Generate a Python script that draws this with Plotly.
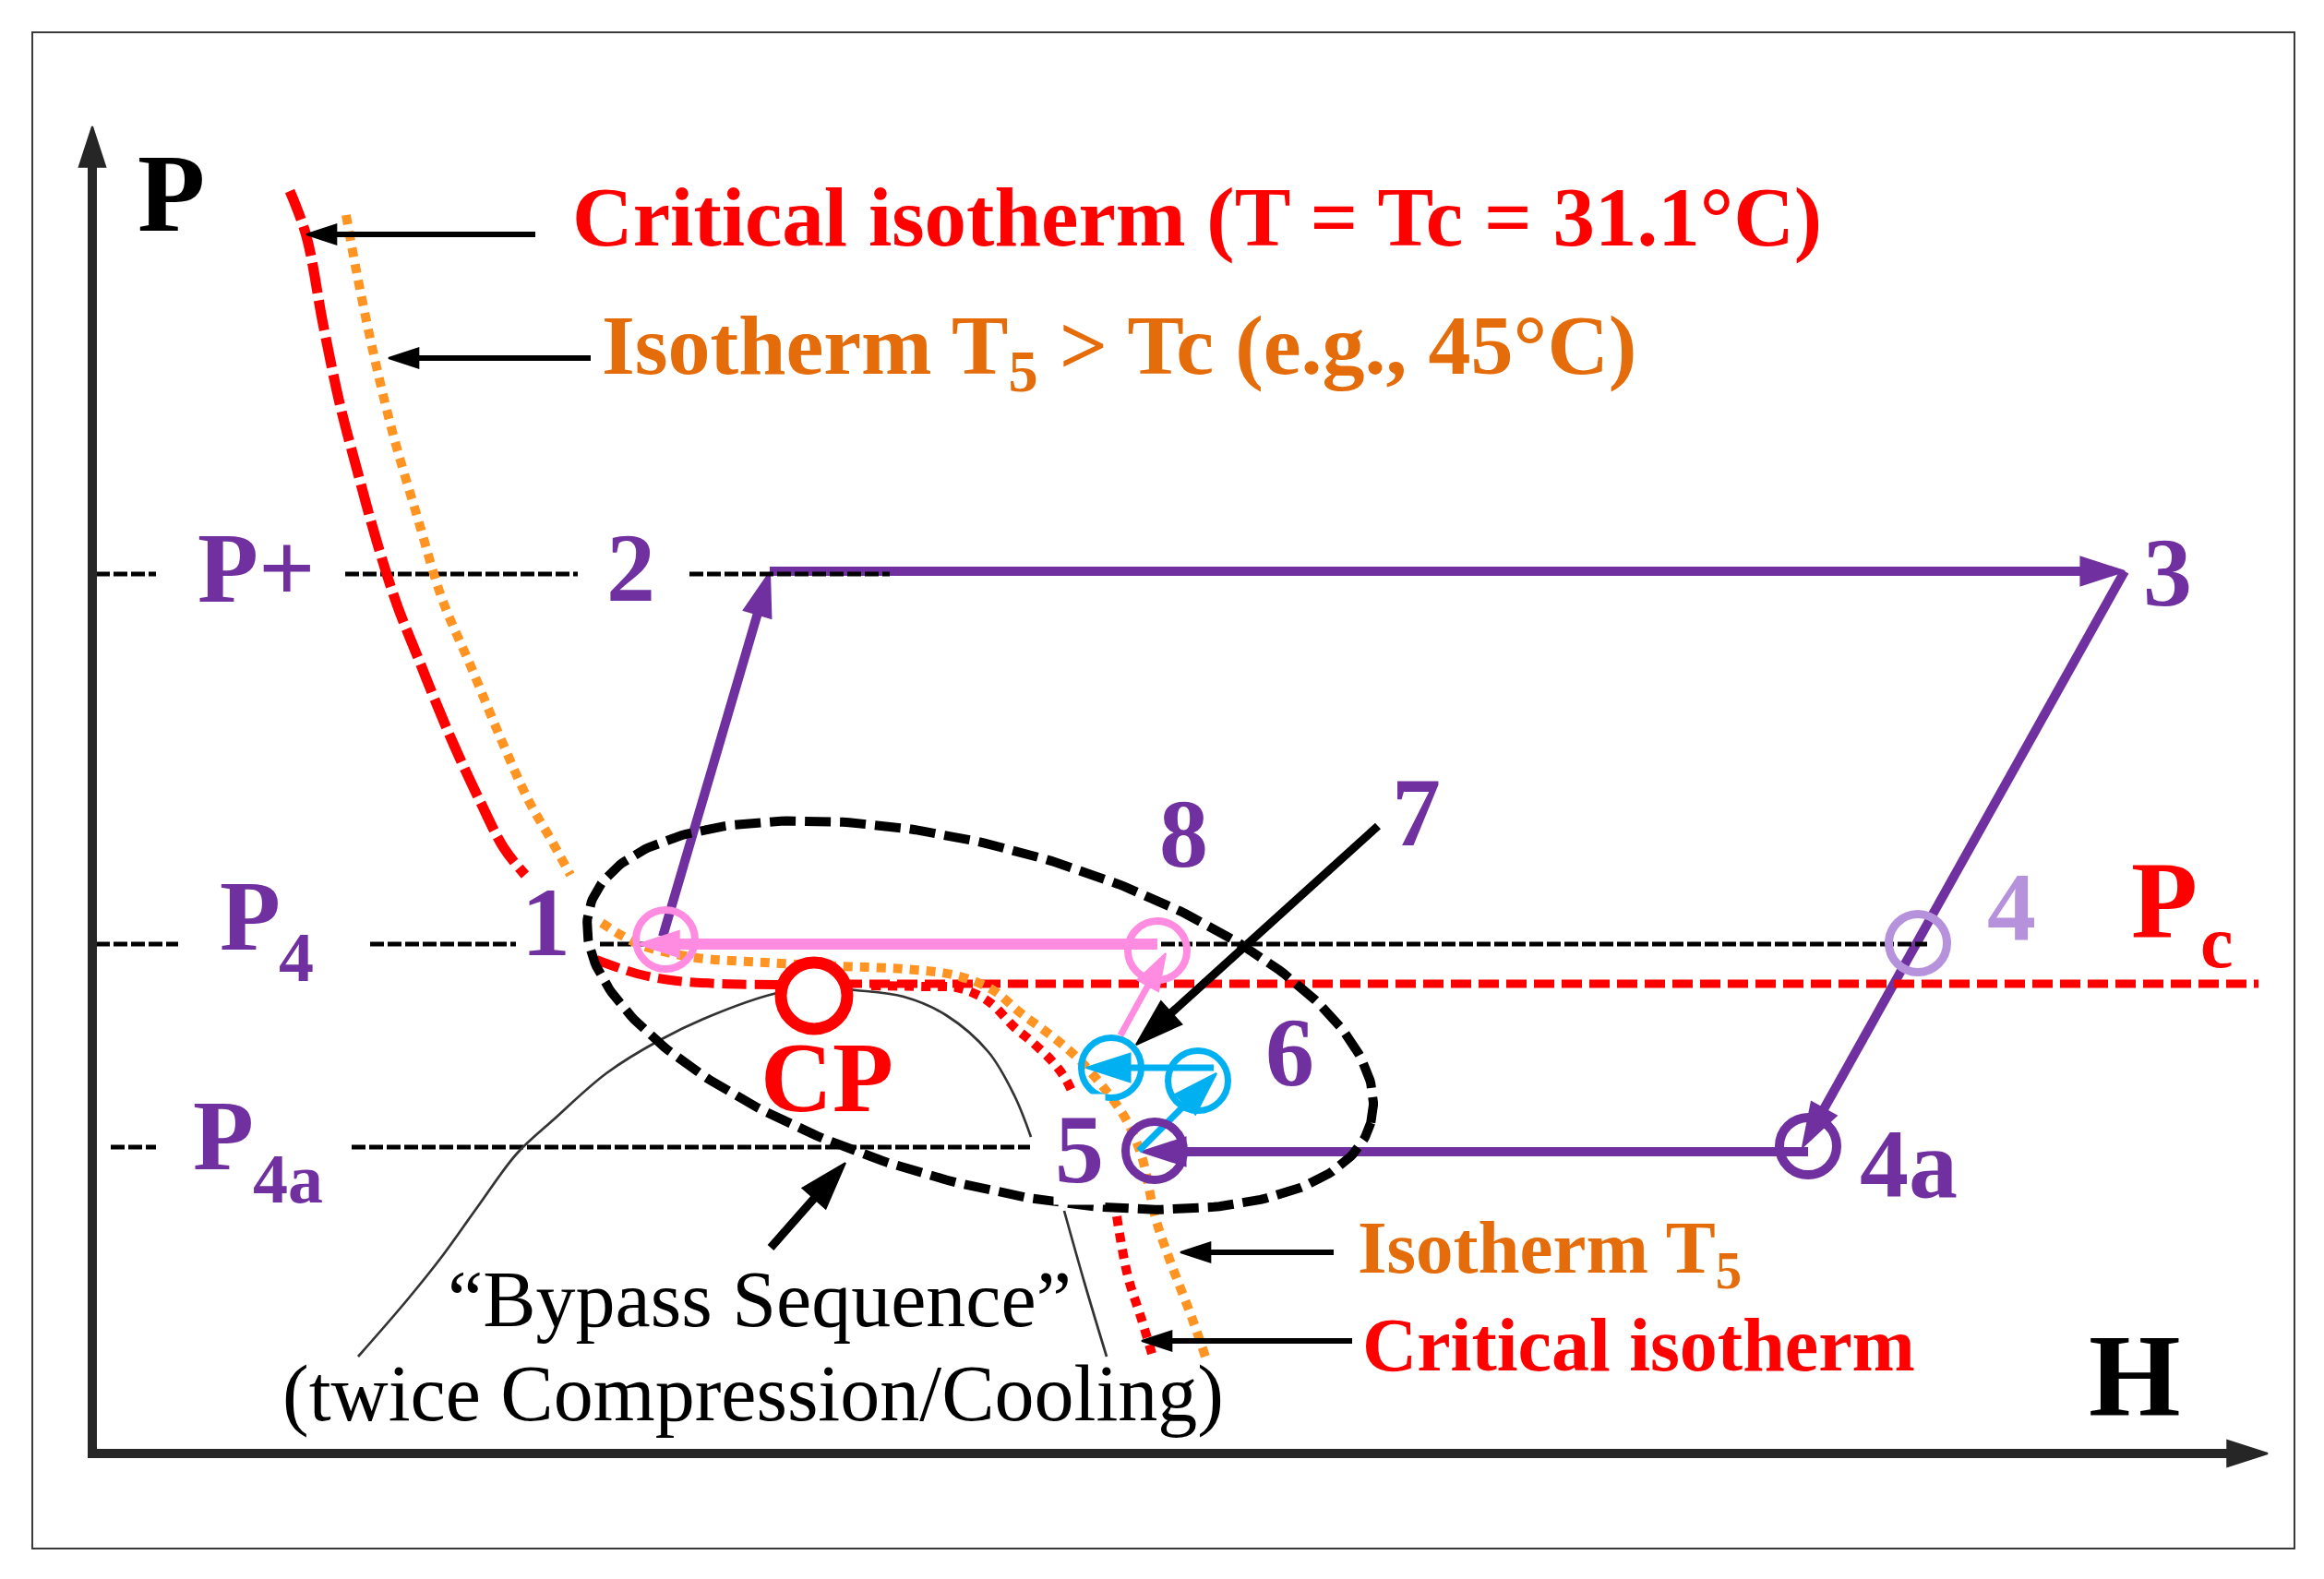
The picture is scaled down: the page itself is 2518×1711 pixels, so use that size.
import numpy as np
import plotly.graph_objects as go

FONT = "Liberation Serif"
PURPLE = "#7030A0"
LIGHT_PURPLE = "#B792DC"
PINK = "#FF8CE0"
CYAN = "#00B0F0"
RED = "#FF0000"
ORANGE_LINE = "#FF9422"
ORANGE_TEXT = "#E46C0A"
AXIS = "#262626"

# ---------------- data (H, P in arbitrary schematic units) ----------------
STATE_NAMES = ["1", "2", "3", "4", "4a", "5", "6", "7", "8", "CP"]
STATE_H = [62.1, 73.4, 220.2, 197.8, 185.9, 115.1, 119.8, 110.4, 115.4, 78.2]
STATE_P = [55.7, 95.5, 95.6, 55.3, 33.3, 32.8, 40.4, 41.8, 54.5, 49.6]

P_PLUS = 95.3
P_4 = 55.2
P_4A = 33.2
P_C = 50.9
PC_LINE_H = [78.2, 234.7]

# dotted reference pressure lines (H extents of visible pieces)
PPLUS_SEG = [(0.4, 6.9), (27.4, 52.6), (64.7, 86.4)]
P4_SEG = [(0.4, 9.3), (30.1, 45.9), (55.0, 198.8)]
P4A_SEG = [(2.0, 6.9), (28.1, 101.6)]

# critical isotherm, high-pressure branch
CRIT_HI_H = [21.4, 23.2, 25.0, 26.8, 28.6, 30.8, 33.0, 35.3, 37.1, 39.3, 42.0, 44.6, 46.9]
CRIT_HI_P = [136.8, 131.9, 122.4, 113.8, 106.9, 98.9, 92.0, 86.2, 81.7, 76.5, 70.7, 65.6, 62.7]
# isotherm T5, high-pressure branch
T5_HI_H = [27.5, 28.6, 30.4, 32.6, 35.3, 37.9, 41.1, 44.2, 47.3, 49.6, 51.8]
T5_HI_P = [134.2, 128.2, 119.5, 110.4, 101.2, 92.6, 85.1, 77.6, 70.7, 66.7, 62.7]
# critical isotherm near CP (dashed part, left of CP)
CRIT_LO_DASH_H = [54.6, 59.0, 62.6, 68.0, 74.1, 78.2]
CRIT_LO_DASH_P = [53.5, 52.0, 51.3, 50.9, 50.8, 50.7]
# critical isotherm, low-pressure side (dotted part)
CRIT_LO_DOT_H = [84.4, 90.0, 93.6, 95.9, 97.6, 99.9, 101.7, 104.0, 105.5, 106.8, None,
                 111.0, 112.2, 113.7, 114.9]
CRIT_LO_DOT_P = [50.7, 50.6, 50.5, 49.7, 48.6, 46.2, 44.7, 42.5, 40.5, 37.7, None,
                 25.7, 19.2, 14.5, 10.5]
# isotherm T5, lower branch
T5_LO_H = [55.2, 59.2, 64.9, 73.0, 81.0, 87.9, 93.6, 97.6, 100.5, 104.0, 106.8, 109.7,
           112.0, 113.7, 115.2, 116.8, 119.1, 120.6]
T5_LO_P = [57.5, 55.2, 53.8, 53.2, 52.8, 52.5, 51.8, 50.2, 47.8, 45.2, 42.8, 39.5,
           36.2, 32.2, 25.5, 20.8, 14.8, 10.5]
# saturation dome (thin line)
DOME_H = [28.8, 34.0, 38.0, 41.8, 46.0, 50.0, 55.7, 61.5, 67.2, 73.8, 78.2, 82.7, 87.9,
          92.5, 97.1, 99.9, 101.7, None, 105.3, 107.5, 109.9]
DOME_P = [10.5, 16.5, 21.5, 26.8, 32.5, 36.2, 41.2, 44.8, 47.5, 49.8, 50.5, 50.2, 49.5,
          47.5, 43.5, 38.8, 34.3, None, 26.3, 18.5, 10.5]

# "bypass sequence" ellipse: centre, semi-axes, tilt (deg)
ELL_C = (96.2, 47.5)
ELL_AB = (43.9, 18.2)
ELL_TILT = -15.4

# process arrows: (H_tail, P_tail, H_head, P_head)
PURPLE_ARROWS = [(61.8, 56.0, 73.4, 95.5), (73.4, 95.6, 220.2, 95.6),
                 (220.2, 95.6, 185.3, 33.2), (185.9, 32.7, 113.7, 32.7)]
CYAN_ARROWS = [(113.4, 32.8, 121.8, 41.2), (121.5, 41.8, 107.7, 41.8)]
PINK_ARROWS = [(111.4, 45.3, 116.3, 54.2), (115.4, 55.2, 59.2, 55.2)]
# pointer arrows
THIN_POINTERS = [(48.0, 132.1, 23.2, 132.1), (54.0, 118.7, 32.1, 118.7),
                 (134.5, 21.8, 117.9, 21.8), (136.5, 12.2, 113.7, 12.2)]
THICK_POINTERS = [(139.3, 68.0, 113.1, 44.3), (73.5, 22.3, 81.6, 31.5)]
AXES = [(-0.5, 0.0, 235.7, 0.0), (0.0, -0.5, 0.0, 143.8)]
FRAME = (-6.5, -10.3, 238.6, 154.0)

# ---------------- figure ----------------
fig = go.Figure()


def seg_xy(segs, level):
    xs, ys = [], []
    for a, b in segs:
        xs += [a, b, None]
        ys += [level, level, None]
    return xs, ys


def ref_line(segs, level):
    xs, ys = seg_xy(segs, level)
    fig.add_trace(go.Scatter(x=xs, y=ys, mode="lines",
                             line=dict(color="black", width=5, dash="15px,4px")))


def arrow(a, color, width, head, edge=2):
    fig.add_trace(go.Scatter(
        x=[a[0], a[2]], y=[a[1], a[3]], mode="lines+markers",
        line=dict(color=color, width=width),
        marker=dict(symbol="arrow", size=[0, head], angleref="previous", color=color,
                    opacity=1, line=dict(width=edge, color=color))))


def curve(xs, ys, color, width, dash, spline=True):
    fig.add_trace(go.Scatter(x=xs, y=ys, mode="lines",
                             line_shape="spline" if spline else "linear",
                             line=dict(color=color, width=width, dash=dash)))


# purple cycle 1-2-3-4a-5
for a in PURPLE_ARROWS:
    arrow(a, PURPLE, 10, 50)

ref_line(P4_SEG, P_4)
ref_line(P4A_SEG, P_4A)
ref_line(PPLUS_SEG, P_PLUS)

fig.add_trace(go.Scatter(x=DOME_H, y=DOME_P, mode="lines", line_shape="spline",
                         line=dict(color="#333333", width=2.7)))

curve(PC_LINE_H, [P_C, P_C], RED, 9, "22px,8px", spline=False)
curve(CRIT_HI_H, CRIT_HI_P, RED, 11, "33px,8px")
curve(T5_HI_H, T5_HI_P, ORANGE_LINE, 10, "10px,8px")
curve(CRIT_LO_DASH_H, CRIT_LO_DASH_P, RED, 10, "26px,9px")
curve(CRIT_LO_DOT_H, CRIT_LO_DOT_P, RED, 10, "10px,8px")
curve(T5_LO_H, T5_LO_P, ORANGE_LINE, 10, "10px,8px")

t = np.linspace(0, 2 * np.pi, 361)
th = np.deg2rad(ELL_TILT)
ex = ELL_C[0] + ELL_AB[0] * np.cos(t) * np.cos(th) - ELL_AB[1] * np.sin(t) * np.sin(th)
ey = ELL_C[1] + ELL_AB[0] * np.cos(t) * np.sin(th) + ELL_AB[1] * np.sin(t) * np.cos(th)
fig.add_trace(go.Scatter(x=ex, y=ey, mode="lines",
                         line=dict(color="black", width=10, dash="28px,10px")))

arrow(PINK_ARROWS[0], PINK, 7, 42)
arrow(PINK_ARROWS[1], PINK, 12, 46)
for a in CYAN_ARROWS:
    arrow(a, CYAN, 7, 50)

# state circles: (name, colour, ring width)
idx = {n: i for i, n in enumerate(STATE_NAMES)}
CIRCLES = [("1", PINK, 8), ("8", PINK, 8), ("4", LIGHT_PURPLE, 9), ("4a", PURPLE, 10),
           ("5", PURPLE, 9), ("7", CYAN, 7), ("6", CYAN, 7)]
for name, col, w in CIRCLES:
    i = idx[name]
    fig.add_trace(go.Scatter(x=[STATE_H[i]], y=[STATE_P[i]], mode="markers",
                             marker=dict(symbol="circle-open", size=72 - w, color=col,
                                         line=dict(color=col, width=w))))
i = idx["CP"]
fig.add_trace(go.Scatter(x=[STATE_H[i]], y=[STATE_P[i]], mode="markers",
                         marker=dict(symbol="circle", size=72, color="white",
                                     line=dict(color=RED, width=13))))

for a in THIN_POINTERS:
    arrow(a, "black", 6, 34)
for a in THICK_POINTERS:
    arrow(a, "black", 9, 54)
for a in AXES:
    arrow(a, AXIS, 10, 46)

ann = []


def label(text, x, y, color, size, bold=True, xanchor="center", bg=None):
    d = dict(x=x, y=y, xref="x", yref="y", text=text, showarrow=False,
             xanchor=xanchor, yanchor="middle",
             font=dict(family=FONT, size=size, color=color, weight=700 if bold else 400))
    if bg:
        d["bgcolor"] = bg
    ann.append(d)


label("P", 8.5, 136.6, "black", 120)
label("H", 221.3, 8.5, "black", 128)
label("Critical isotherm (T = Tc = 31.1°C)", 51.8, 134.0, RED, 91, xanchor="left")
label("Isotherm T<sub>5</sub> &gt; Tc (e.g., 45°C)", 55.0, 119.5, ORANGE_TEXT, 92, xanchor="left")
label("P+", 17.8, 96.0, PURPLE, 108)
label("2", 58.3, 96.0, PURPLE, 106)
label("3", 224.8, 95.5, PURPLE, 106)
label("P", 17.1, 58.3, PURPLE, 108)
label("4", 22.1, 53.8, PURPLE, 76)
label("1", 49.1, 57.6, PURPLE, 106)
label("P", 14.2, 34.5, PURPLE, 108)
label("4a", 21.2, 29.8, PURPLE, 76)
label("5", 106.9, 33.0, PURPLE, 106, bg="white")
label("4a", 196.8, 31.4, PURPLE, 106)
label("8", 118.2, 67.2, PURPLE, 106)
label("7", 143.4, 69.5, PURPLE, 106)
label("6", 129.7, 43.5, PURPLE, 106)
label("4", 207.9, 59.2, LIGHT_PURPLE, 106)
label("P", 224.5, 59.9, RED, 118)
label("c", 230.2, 55.4, RED, 80)
label("CP", 79.6, 40.8, RED, 108)
label("Isotherm T<sub>5</sub>", 136.9, 21.8, ORANGE_TEXT, 81, xanchor="left")
label("Critical isotherm", 137.4, 11.8, RED, 82, xanchor="left")
label("“Bypass Sequence”", 72.3, 16.7, "black", 86, bold=False)
label("(twice Compression/Cooling)", 71.6, 6.5, "black", 86, bold=False)

fig.update_layout(
    width=2518, height=1711,
    margin=dict(l=0, r=0, t=0, b=0),
    paper_bgcolor="white", plot_bgcolor="white",
    showlegend=False,
    xaxis=dict(range=[-10.0, 241.8], visible=False, fixedrange=True),
    yaxis=dict(range=[-13.6, 157.5], visible=False, fixedrange=True),
    annotations=ann,
    shapes=[dict(type="rect", xref="x", yref="y", x0=FRAME[0], y0=FRAME[1], x1=FRAME[2],
                 y1=FRAME[3], line=dict(color="#3A3A3A", width=2), layer="below")],
)

fig.write_html("out.html", config={"displayModeBar": False},
               post_script="document.body.style.margin='0';")
